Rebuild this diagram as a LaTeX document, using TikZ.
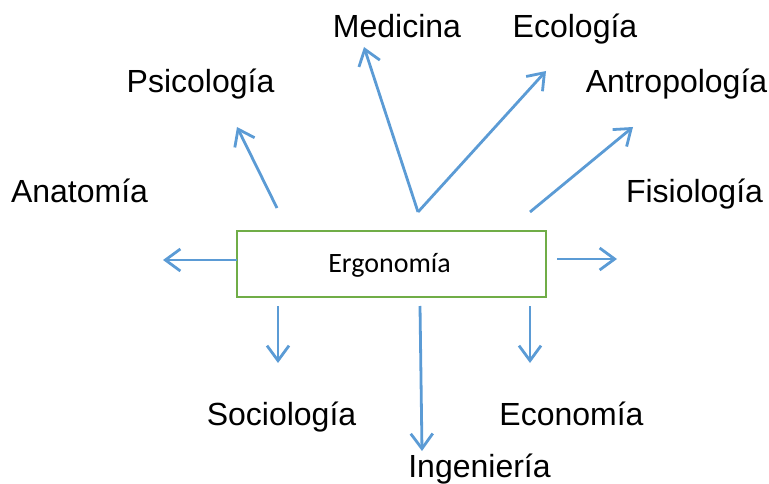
\documentclass[tikz,border=0pt]{standalone}
\usepackage{fontspec}
\setmainfont{Liberation Sans}
\newfontfamily\calibri{Carlito}
\usetikzlibrary{arrows.meta}
\definecolor{arrowblue}{HTML}{5B9BD5}
\definecolor{boxgreen}{HTML}{70AD47}
\begin{document}
\begin{tikzpicture}[x=1pt,y=-1pt,
  lbl/.style={anchor=base,inner sep=0pt,font=\fontsize{32}{38}\selectfont},
  conn/.style={draw=arrowblue,line width=2.8pt,-{Straight Barb[length=15pt,width=22pt,line width=2.8pt]}},
  mainbox/.style={draw=boxgreen,line width=2.4pt,minimum width=309pt,minimum height=66pt,inner sep=0pt}]
\useasboundingbox (0,0) rectangle (769,484);
% central box
\node[mainbox] (box) at (391.5,264) {};
\node[anchor=base,inner sep=0pt,font=\calibri\fontsize{28}{34}\selectfont] (ergo) at (389.5,272) {Ergonomía};
% labels
\node[lbl] (med) at (397,38) {Medicina};
\node[lbl] (eco) at (575,38) {Ecología};
\node[lbl] (psi) at (200.5,93) {Psicología};
\node[lbl] (ant) at (676.5,93) {Antropología};
\node[lbl] (anat) at (79.5,203) {Anatomía};
\node[lbl] (fis) at (694.5,203) {Fisiología};
\node[lbl] (soc) at (281.5,425) {Sociología};
\node[lbl] (econ) at (571.5,425) {Economía};
\node[lbl] (ing) at (479.5,477) {Ingeniería};
% arrow endpoints
\coordinate (l0) at (237,260);  \coordinate (l1) at (163,260);
\coordinate (r0) at (557,259);  \coordinate (r1) at (617,259);
\coordinate (p0) at (277,208);  \coordinate (p1) at (237,127);
\coordinate (m0) at (418,212);  \coordinate (m1) at (364,47);
\coordinate (e0) at (418,212);  \coordinate (e1) at (546,71);
\coordinate (a0) at (530,212);  \coordinate (a1) at (633,127);
\coordinate (s0) at (278,306);  \coordinate (s1) at (278,363);
\coordinate (i0) at (420,306);  \coordinate (i1) at (422,451);
\coordinate (c0) at (530,306);  \coordinate (c1) at (530,363);
\draw[conn] (l0) -- (l1);
\draw[conn] (r0) -- (r1);
\draw[conn] (p0) -- (p1);
\draw[conn] (m0) -- (m1);
\draw[conn] (e0) -- (e1);
\draw[conn] (a0) -- (a1);
\draw[conn] (s0) -- (s1);
\draw[conn] (i0) -- (i1);
\draw[conn] (c0) -- (c1);
\end{tikzpicture}
\end{document}
